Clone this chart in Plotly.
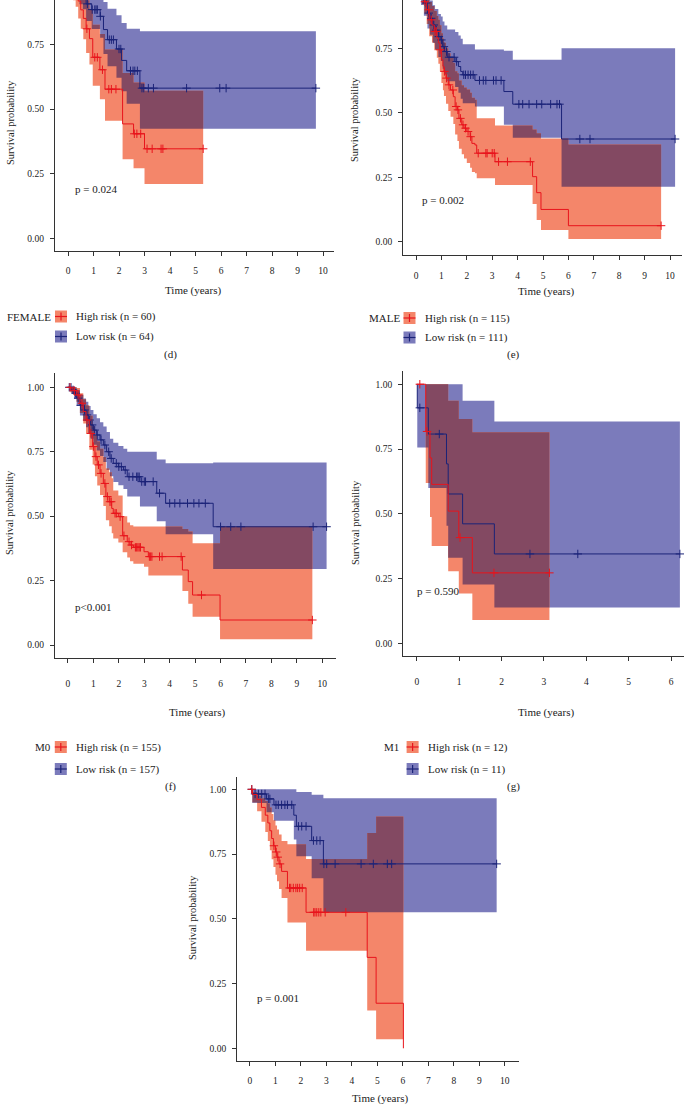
import numpy as np
import plotly.graph_objects as go

# ---------------- data ----------------
# (d) FEMALE
d_high_t = [0, 0.1, 0.2, 0.3, 0.4, 0.5, 0.6, 0.71, 0.84, 0.97, 1.25, 1.45, 2.14, 2.57, 3.0]
d_high_s = [1, 0.983, 0.967, 0.95, 0.917, 0.883, 0.85, 0.81, 0.772, 0.70, 0.652, 0.577, 0.443, 0.405, 0.347]
d_high_lo = [1, 0.95, 0.92, 0.895, 0.85, 0.81, 0.77, 0.717, 0.672, 0.59, 0.538, 0.455, 0.307, 0.272, 0.211]
d_high_hi = [1, 1, 1, 1, 0.99, 0.96, 0.94, 0.92, 0.885, 0.826, 0.79, 0.73, 0.639, 0.603, 0.571]
d_high_end = 5.3
d_high_cens = [0.74, 1.05, 1.15, 1.35, 1.6, 1.7, 1.88, 2.6, 2.7, 2.85, 3.1, 3.3, 3.65, 3.72, 5.3]
d_low_t = [0, 0.15, 0.3, 0.45, 0.58, 0.71, 0.93, 1.26, 1.39, 1.55, 1.9, 2.1, 2.3, 2.82]
d_low_s = [1, 0.984, 0.969, 0.953, 0.938, 0.906, 0.884, 0.858, 0.807, 0.768, 0.732, 0.688, 0.648, 0.581]
d_low_lo = [1, 0.953, 0.93, 0.905, 0.885, 0.84, 0.809, 0.775, 0.713, 0.665, 0.621, 0.569, 0.521, 0.424]
d_low_hi = [1, 1, 1, 1, 0.995, 0.975, 0.966, 0.95, 0.913, 0.887, 0.862, 0.832, 0.81, 0.80]
d_low_end = 9.72
d_low_cens = [0.76, 0.95, 1.05, 1.1, 1.15, 1.27, 1.62, 1.7, 1.78, 2.0, 2.07, 2.45, 2.55, 2.62, 2.72,
              2.9, 2.97, 3.15, 3.35, 4.65, 5.95, 6.2, 9.72]

# (e) MALE
e_high_t = [0, 0.1, 0.18, 0.25, 0.33, 0.42, 0.52, 0.63, 0.72, 0.82, 0.88, 0.94, 1.0, 1.06, 1.1, 1.18, 1.27,
            1.36, 1.47, 1.54, 1.63, 1.69, 1.8, 1.89, 2.0, 2.13, 2.2, 2.32, 2.39, 3.11, 4.59, 4.75, 4.92, 6.0]
e_high_s = [1, 0.991, 0.974, 0.957, 0.93, 0.899, 0.86, 0.84, 0.815, 0.79, 0.77, 0.744, 0.705, 0.68, 0.66, 0.634,
            0.608, 0.588, 0.562, 0.524, 0.511, 0.478, 0.453, 0.44, 0.427, 0.407, 0.381, 0.375, 0.343, 0.31,
            0.252, 0.19, 0.125, 0.062]
e_high_lo = [1, 0.974, 0.945, 0.92, 0.884, 0.844, 0.796, 0.772, 0.742, 0.713, 0.69, 0.66, 0.615, 0.587, 0.565,
             0.535, 0.507, 0.484, 0.456, 0.415, 0.39, 0.36, 0.339, 0.322, 0.305, 0.287, 0.27, 0.265, 0.246,
             0.22, 0.146, 0.084, 0.045, 0.0103]
e_high_hi = [1, 1, 1, 0.995, 0.979, 0.957, 0.929, 0.914, 0.894, 0.875, 0.86, 0.839, 0.808, 0.788, 0.771, 0.75,
             0.73, 0.714, 0.693, 0.661, 0.653, 0.625, 0.606, 0.598, 0.59, 0.577, 0.558, 0.55, 0.478, 0.45,
             0.435, 0.42, 0.40, 0.377]
e_high_end = 9.65
e_high_cens = [0.35, 0.5, 0.6, 0.75, 0.8, 0.95, 1.12, 1.2, 1.3, 1.45, 1.58, 1.65, 1.75, 1.85, 1.95, 2.05,
               2.15, 2.45, 2.75, 2.8, 3.0, 3.08, 3.25, 3.6, 4.5, 9.65]
e_low_t = [0, 0.1, 0.2, 0.31, 0.45, 0.55, 0.66, 0.75, 0.88, 0.98, 1.05, 1.12, 1.23, 1.54, 1.67, 1.76, 1.84,
           2.32, 3.46, 3.81, 5.73]
e_low_s = [1, 0.982, 0.955, 0.925, 0.886, 0.866, 0.84, 0.82, 0.795, 0.782, 0.756, 0.737, 0.715, 0.698, 0.679,
           0.66, 0.647, 0.625, 0.582, 0.533, 0.398]
e_low_lo = [1, 0.958, 0.917, 0.876, 0.826, 0.802, 0.77, 0.745, 0.716, 0.70, 0.67, 0.648, 0.622, 0.60, 0.577,
            0.554, 0.537, 0.524, 0.453, 0.403, 0.213]
e_low_hi = [1, 1, 0.995, 0.977, 0.95, 0.935, 0.916, 0.902, 0.883, 0.873, 0.853, 0.838, 0.822, 0.813, 0.799,
            0.787, 0.765, 0.745, 0.74, 0.705, 0.75]
e_low_end = 10.2
e_low_cens = [0.3, 0.4, 0.5, 0.6, 0.7, 0.8, 0.9, 1.0, 1.1, 1.2, 1.3, 1.5, 1.6, 1.88, 1.95, 2.05, 2.15, 2.25,
              2.5, 2.65, 2.75, 3.05, 3.15, 3.35, 4.05, 4.2, 4.45, 4.75, 4.95, 5.3, 5.55, 5.65, 6.45, 6.85, 10.2]

# (f) M0
f_high_t = [0, 0.1, 0.2, 0.34, 0.47, 0.6, 0.71, 0.84, 0.97, 1.06, 1.15, 1.26, 1.39, 1.49, 1.62, 1.72, 1.78,
            1.98, 2.15, 2.33, 2.44, 2.57, 2.99, 3.16, 4.5, 4.73, 4.9, 5.98]
f_high_s = [1, 0.994, 0.987, 0.97, 0.938, 0.906, 0.873, 0.821, 0.77, 0.731, 0.699, 0.666, 0.627, 0.576, 0.556,
            0.53, 0.511, 0.498, 0.424, 0.401, 0.388, 0.379, 0.362, 0.343, 0.291, 0.246, 0.194, 0.097]
f_high_lo = [1, 0.98, 0.97, 0.944, 0.90, 0.86, 0.82, 0.758, 0.70, 0.655, 0.619, 0.582, 0.539, 0.484, 0.461,
             0.434, 0.413, 0.398, 0.36, 0.34, 0.325, 0.315, 0.304, 0.27, 0.21, 0.16, 0.11, 0.022]
f_high_hi = [1, 1, 1, 0.997, 0.977, 0.954, 0.93, 0.89, 0.847, 0.815, 0.79, 0.762, 0.73, 0.685, 0.67, 0.647,
             0.60, 0.58, 0.50, 0.475, 0.465, 0.46, 0.46, 0.46, 0.45, 0.44, 0.395, 0.46]
f_high_end = 9.61
f_high_cens = [0.08, 0.25, 0.4, 0.55, 0.75, 0.9, 1.0, 1.1, 1.2, 1.3, 1.45, 1.55, 1.65, 1.7, 1.85, 1.9, 2.05,
               2.2, 2.4, 2.5, 2.65, 2.7, 2.75, 2.8, 2.85, 3.2, 3.25, 3.3, 3.6, 3.7, 4.45, 5.25, 9.61]
f_low_t = [0, 0.14, 0.24, 0.34, 0.47, 0.6, 0.71, 0.8, 0.89, 1.0, 1.13, 1.26, 1.39, 1.52, 1.65, 1.78, 1.98,
           2.18, 2.33, 2.83, 3.49, 3.84, 5.71]
f_low_s = [1, 0.99, 0.977, 0.958, 0.93, 0.912, 0.893, 0.873, 0.854, 0.834, 0.815, 0.796, 0.776, 0.75, 0.724,
           0.705, 0.692, 0.679, 0.653, 0.634, 0.589, 0.55, 0.459]
f_low_lo = [1, 0.975, 0.955, 0.928, 0.891, 0.869, 0.845, 0.822, 0.80, 0.777, 0.755, 0.733, 0.71, 0.68, 0.655,
            0.633, 0.62, 0.605, 0.576, 0.537, 0.48, 0.43, 0.295]
f_low_hi = [1, 1, 0.999, 0.989, 0.971, 0.957, 0.944, 0.927, 0.912, 0.895, 0.88, 0.864, 0.848, 0.827, 0.80,
            0.785, 0.772, 0.762, 0.75, 0.75, 0.72, 0.705, 0.708]
f_low_end = 10.17
f_low_cens = [0.05, 0.12, 0.2, 0.3, 0.4, 0.5, 0.65, 0.75, 0.85, 0.95, 1.05, 1.15, 1.3, 1.45, 1.6, 1.7, 1.9,
              2.0, 2.1, 2.25, 2.4, 2.55, 2.7, 2.75, 2.8, 2.9, 3.0, 3.05, 3.35, 3.6, 4.0, 4.2, 4.4, 4.7, 4.95,
              5.15, 5.4, 6.0, 6.4, 6.8, 9.64, 10.17]

# (g) M1
g_high_t = [0, 0.21, 0.31, 0.35, 0.74, 0.99, 1.31]
g_high_s = [1, 0.818, 0.716, 0.614, 0.511, 0.409, 0.273]
g_high_lo = [1, 0.619, 0.488, 0.377, 0.279, 0.193, 0.091]
g_high_hi = [1, 1, 1, 1, 0.936, 0.866, 0.815]
g_high_end = 3.13
g_high_cens = [0.07, 0.24, 1.02, 1.82, 3.13]
g_low_t = [0, 0.01, 0.27, 0.7, 0.74, 1.08, 1.83]
g_low_s = [1, 0.909, 0.808, 0.693, 0.577, 0.462, 0.346]
g_low_lo = [1, 0.756, 0.60, 0.455, 0.331, 0.228, 0.14]
g_low_hi = [1, 1, 1, 1, 1, 0.936, 0.856]
g_low_end = 6.21
g_low_cens = [0.07, 0.53, 2.67, 3.8, 6.21]

# (h)
h_high_t = [0, 0.1, 0.28, 0.45, 0.6, 0.7, 0.78, 0.85, 0.92, 1.0, 1.06, 1.14, 1.24, 1.47, 2.2, 4.6, 4.95, 6.02]
h_high_s = [1, 0.98, 0.96, 0.93, 0.90, 0.87, 0.84, 0.81, 0.782, 0.758, 0.738, 0.712, 0.683, 0.619, 0.525,
            0.351, 0.174, 0]
h_high_lo = [1, 0.95, 0.915, 0.875, 0.835, 0.80, 0.765, 0.73, 0.70, 0.67, 0.645, 0.615, 0.58, 0.486, 0.377,
             0.146, 0.035, 0]
h_high_hi = [1, 0.99, 0.975, 0.965, 0.955, 0.945, 0.93, 0.905, 0.88, 0.86, 0.845, 0.825, 0.80, 0.788, 0.731,
             0.831, 0.895, 0]
h_high_end = 6.02
h_high_cens = [0.07, 0.94, 1.03, 1.09, 1.18, 1.55, 1.6, 1.7, 1.8, 1.87, 1.95, 2.05, 2.5, 2.55, 2.62, 2.7,
               2.78, 2.95, 3.76]
h_low_t = [0, 0.09, 0.65, 0.94, 1.72, 1.82, 2.42, 2.88]
h_low_s = [1, 0.982, 0.963, 0.94, 0.90, 0.857, 0.802, 0.712]
h_low_lo = [1, 0.947, 0.911, 0.879, 0.806, 0.741, 0.657, 0.525]
h_low_hi = [1, 1, 1, 1, 1, 0.99, 0.979, 0.965]
h_low_end = 9.68
h_low_cens = [0.07, 0.2, 0.33, 0.46, 0.59, 0.72, 0.78, 1.02, 1.11, 1.24, 1.37, 1.47, 1.64, 1.9, 2.03, 2.2,
              2.49, 2.62, 2.75, 2.9, 3.01, 3.34, 4.36, 4.84, 5.39, 5.56, 9.68]

legend_groups = ["FEMALE", "MALE", "M0", "M1"]
legend_high = ["High risk (n = 60)", "High risk (n = 115)", "High risk (n = 155)", "High risk (n = 12)"]
legend_low = ["Low risk (n = 64)", "Low risk (n = 111)", "Low risk (n = 157)", "Low risk (n = 11)"]
p_texts = ["p = 0.024", "p = 0.002", "p<0.001", "p = 0.590", "p = 0.001"]
panel_tags = ["(d)", "(e)", "(f)", "(g)"]

# ---------------- style ----------------
W, H = 684, 1108
RED_LINE = '#E8141C'
BLUE_LINE = '#1B2378'
RED_FILL = 'rgb(244,134,106)'
BLUE_FILL = 'rgb(123,123,187)'
DARK_FILL = 'rgb(131,73,98)'
FONT = 'Liberation Serif'
TXT = '#222222'


def px(x):
    return x / W


def py(y):
    return 1 - y / H


def step_eval(times, vals, grid):
    idx = np.searchsorted(np.asarray(times), np.asarray(grid), side='right') - 1
    idx = np.clip(idx, 0, len(vals) - 1)
    return np.asarray(vals, dtype=float)[idx]


fig = go.Figure()


def add_band(x, lo, hi, color, xa, ya):
    fig.add_trace(go.Scatter(x=x, y=lo, mode='lines', line=dict(width=0, shape='hv'),
                             xaxis=xa, yaxis=ya, hoverinfo='skip', showlegend=False))
    fig.add_trace(go.Scatter(x=x, y=hi, mode='lines', line=dict(width=0, shape='hv'),
                             fill='tonexty', fillcolor=color, xaxis=xa, yaxis=ya,
                             hoverinfo='skip', showlegend=False))


def add_panel(hi_grp, lo_grp, xa, ya):
    (ht, hs, hlo, hhi, hend, hc) = hi_grp
    (lt, ls, llo, lhi, lend, lc) = lo_grp
    add_band(list(lt) + [lend], list(llo) + [llo[-1]], list(lhi) + [lhi[-1]], BLUE_FILL, xa, ya)
    add_band(list(ht) + [hend], list(hlo) + [hlo[-1]], list(hhi) + [hhi[-1]], RED_FILL, xa, ya)
    end = min(hend, lend)
    grid = np.unique(np.concatenate([ht, lt]))
    grid = grid[grid < end]
    lo = np.maximum(step_eval(ht, hlo, grid), step_eval(lt, llo, grid))
    hi = np.minimum(step_eval(ht, hhi, grid), step_eval(lt, lhi, grid))
    hi = np.maximum(hi, lo)
    gx = list(grid) + [end]
    add_band(gx, list(lo) + [lo[-1]], list(hi) + [hi[-1]], DARK_FILL, xa, ya)
    for (t, s, end_t, cens, col) in [(lt, ls, lend, lc, BLUE_LINE), (ht, hs, hend, hc, RED_LINE)]:
        fig.add_trace(go.Scatter(x=list(t) + [end_t], y=list(s) + [s[-1]], mode='lines',
                                 line=dict(color=col, width=1.0, shape='hv'),
                                 xaxis=xa, yaxis=ya, hoverinfo='skip', showlegend=False))
        fig.add_trace(go.Scatter(x=cens, y=step_eval(t, s, cens), mode='markers',
                                 marker=dict(symbol='cross-thin', size=6, line=dict(color=col, width=1.0)),
                                 xaxis=xa, yaxis=ya, hoverinfo='skip', showlegend=False))


panels = [
    ((d_high_t, d_high_s, d_high_lo, d_high_hi, d_high_end, d_high_cens),
     (d_low_t, d_low_s, d_low_lo, d_low_hi, d_low_end, d_low_cens), 'x', 'y'),
    ((e_high_t, e_high_s, e_high_lo, e_high_hi, e_high_end, e_high_cens),
     (e_low_t, e_low_s, e_low_lo, e_low_hi, e_low_end, e_low_cens), 'x2', 'y2'),
    ((f_high_t, f_high_s, f_high_lo, f_high_hi, f_high_end, f_high_cens),
     (f_low_t, f_low_s, f_low_lo, f_low_hi, f_low_end, f_low_cens), 'x3', 'y3'),
    ((g_high_t, g_high_s, g_high_lo, g_high_hi, g_high_end, g_high_cens),
     (g_low_t, g_low_s, g_low_lo, g_low_hi, g_low_end, g_low_cens), 'x4', 'y4'),
    ((h_high_t, h_high_s, h_high_lo, h_high_hi, h_high_end, h_high_cens),
     (h_low_t, h_low_s, h_low_lo, h_low_hi, h_low_end, h_low_cens), 'x5', 'y5'),
]
for hg, lg, xa, ya in panels:
    add_panel(hg, lg, xa, ya)

geo = [
    (55, 334, [-0.51, 10.43], 0, 250.7, [-0.046, 0.921], list(range(0, 11)), 7),
    (403.3, 681.7, [-0.5, 10.46], 0, 255, [-0.0516, 0.9368], list(range(0, 11)), 7),
    (55, 336, [-0.511, 10.54], 373, 658, [-0.0504, 1.0555], list(range(0, 11)), 12),
    (403.3, 684, [-0.32, 6.307], 371, 656, [-0.0474, 1.051], list(range(0, 7)), 12),
    (237.3, 519, [-0.498, 10.557], 776.7, 1060.7, [-0.0479, 1.0486], list(range(0, 11)), 7),
]
layout = {}
for i, (xl, xr, xrng, yt, yb, yrng, xt, sto) in enumerate(geo):
    sfx = '' if i == 0 else str(i + 1)
    common = dict(showline=True, linecolor='#333333', linewidth=1.2, ticks='outside', ticklen=4,
                  tickcolor='#333333', tickwidth=1, showgrid=False, zeroline=False,
                  tickfont=dict(family=FONT, size=9.5, color=TXT), fixedrange=True)
    layout['xaxis' + sfx] = dict(domain=[px(xl), px(xr)], range=xrng, tickvals=xt,
                                 anchor='y' + sfx, ticklabelstandoff=sto, **common)
    layout['yaxis' + sfx] = dict(domain=[py(yb), py(yt)], range=yrng,
                                 tickvals=[0, 0.25, 0.5, 0.75, 1.0], tickformat='.2f',
                                 anchor='x' + sfx, ticklabelstandoff=4, **common)

annotations = []


def text(x, y, s, size=11, xanchor='center', angle=0):
    annotations.append(dict(x=px(x), y=py(y), xref='paper', yref='paper', text=s, showarrow=False,
                            xanchor=xanchor, yanchor='middle', textangle=angle,
                            font=dict(family=FONT, size=size, color=TXT)))


for (x, y) in [(193, 290.7), (545.7, 292), (197, 712), (546, 712), (380, 1098)]:
    text(x, y, 'Time (years)', 11)
for (x, y) in [(10, 123), (355, 120), (10, 513), (355, 523), (192, 918)]:
    text(x, y, 'Survival probability', 10.5, angle=-90)
for (x, y), s in zip([(72.5, 189), (420, 200), (73, 607), (415, 591), (255, 998)], p_texts):
    text(x, y, s, 11, xanchor='left')

shapes = []
leg_geo = [(52.6, 55, 316.5, 336.5), (401.5, 403.5, 318, 337.5), (52.6, 54.8, 747, 769), (401, 406.6, 747, 769)]
for (tx, bx, r1, r2), grp, lh, ll in zip(leg_geo, legend_groups, legend_high, legend_low):
    text(tx, r1, grp, 11, xanchor='right')
    for ry, fillc, linec, lab in [(r1, RED_FILL, RED_LINE, lh), (r2, BLUE_FILL, BLUE_LINE, ll)]:
        shapes.append(dict(type='rect', xref='paper', yref='paper', x0=px(bx), x1=px(bx + 12),
                           y0=py(ry + 6), y1=py(ry - 6), fillcolor=fillc, line=dict(width=0), layer='above'))
        shapes.append(dict(type='line', xref='paper', yref='paper', x0=px(bx), x1=px(bx + 12),
                           y0=py(ry), y1=py(ry), line=dict(color=linec, width=1.2), layer='above'))
        shapes.append(dict(type='line', xref='paper', yref='paper', x0=px(bx + 6), x1=px(bx + 6),
                           y0=py(ry - 4), y1=py(ry + 4), line=dict(color=linec, width=1.2), layer='above'))
        text(bx + 19, ry, lab, 11, xanchor='left')

for (x, y), s in zip([(170, 354), (513, 354), (170, 786), (513, 786)], panel_tags):
    text(x, y, s, 11)

fig.update_layout(width=W, height=H, margin=dict(l=0, r=0, t=0, b=0), paper_bgcolor='white',
                  plot_bgcolor='white', showlegend=False, annotations=annotations, shapes=shapes, **layout)
fig.write_html('out.html', config={'displayModeBar': False, 'staticPlot': True},
               post_script="document.body.style.margin='0';document.body.style.padding='0';")
